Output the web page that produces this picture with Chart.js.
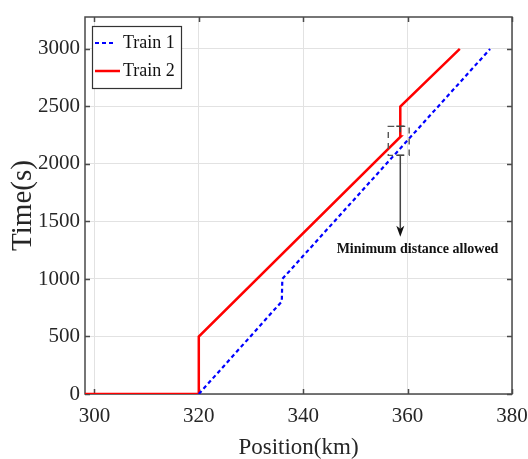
<!DOCTYPE html>
<html>
<head>
<meta charset="utf-8">
<script src="https://cdn.jsdelivr.net/npm/chart.js@4/dist/chart.umd.min.js"></script>
<style>
html,body{margin:0;padding:0;background:#fff;}
#wrap{width:528px;height:459px;}
</style>
</head>
<body>
<div id="wrap"><canvas id="c" width="528" height="459"></canvas></div>
<script>
// ---- data ----
const train1Pos  = [320, 335.9, 336.0, 375.8];
const train1Time = [0, 805, 1000, 3000];
const train2Pos  = [298.2, 320, 320, 358.7, 358.6, 370];
const train2Time = [0, 0, 500, 2240, 2500, 3000];
const xTicks = [300, 320, 340, 360, 380];
const yTicks = [0, 500, 1000, 1500, 2000, 2500, 3000];
const seriesLabels = ['Train 1', 'Train 2'];
// annotation (data units)
const boxPos = [356.3, 360.3];
const boxTime = [2075, 2327];
const arrowPos = [358.6];
const arrowTime = [2075, 1368];
const noteText = 'Minimum distance allowed';
const notePos = [361.9];
const noteTime = [1255];

const FAMILY = '"Liberation Serif", "Times New Roman", serif';
const TXT = '#262626';

function pts(xs, ys){ return xs.map((x,i)=>({x:x, y:ys[i]})); }

const framePlugin = {
  id:'frame',
  beforeDatasetsDraw(chart){
    const {ctx, chartArea:a, scales:{x,y}} = chart;
    ctx.save();
    ctx.strokeStyle = '#4a4a4a';
    ctx.lineWidth = 1.5;
    ctx.beginPath();
    xTicks.forEach(v=>{
      const px = Math.round(x.getPixelForValue(v))+0.5;
      ctx.moveTo(px, a.bottom); ctx.lineTo(px, a.bottom-5);
      ctx.moveTo(px, a.top); ctx.lineTo(px, a.top+5);
    });
    yTicks.forEach(v=>{
      const py = Math.round(y.getPixelForValue(v))+0.5;
      ctx.moveTo(a.left, py); ctx.lineTo(a.left+5, py);
      ctx.moveTo(a.right, py); ctx.lineTo(a.right-5, py);
    });
    ctx.stroke();
    ctx.strokeRect(a.left, a.top, a.right-a.left, a.bottom-a.top);
    ctx.restore();
  },
  afterDatasetsDraw(chart){
    const {ctx, scales:{x,y}} = chart;
    ctx.save();
    // dashed box
    const x0 = x.getPixelForValue(boxPos[0]), x1 = x.getPixelForValue(boxPos[1]);
    const y0 = y.getPixelForValue(boxTime[1]), y1 = y.getPixelForValue(boxTime[0]);
    ctx.strokeStyle = '#555';
    ctx.lineWidth = 1.4;
    ctx.setLineDash([6,5]);
    ctx.strokeRect(x0, y0, x1-x0, y1-y0);
    ctx.setLineDash([]);
    // arrow
    const ax = x.getPixelForValue(arrowPos[0]);
    const ay0 = y.getPixelForValue(arrowTime[0]);
    const ay1 = y.getPixelForValue(arrowTime[1]);
    ctx.strokeStyle = '#444';
    ctx.lineWidth = 1.5;
    ctx.beginPath();
    ctx.moveTo(ax-4, ay0); ctx.lineTo(ax+4, ay0);
    ctx.moveTo(ax, y0); ctx.lineTo(ax, y0+6);
    ctx.moveTo(ax-4, y0); ctx.lineTo(ax+4, y0);
    ctx.moveTo(ax, ay0); ctx.lineTo(ax, ay1-8);
    ctx.stroke();
    ctx.fillStyle = '#111';
    ctx.beginPath();
    ctx.moveTo(ax, ay1);
    ctx.lineTo(ax-4, ay1-11);
    ctx.lineTo(ax, ay1-8);
    ctx.lineTo(ax+4, ay1-11);
    ctx.closePath();
    ctx.fill();
    // note
    ctx.font = 'bold 14px ' + FAMILY;
    ctx.fillStyle = '#111';
    ctx.textAlign = 'center';
    ctx.textBaseline = 'middle';
    ctx.fillText(noteText, x.getPixelForValue(notePos[0]), y.getPixelForValue(noteTime[0]));
    ctx.restore();
  },
  afterDraw(chart){
    // legend box in the upper-left corner of the plot
    const {ctx, chartArea:a} = chart;
    ctx.save();
    const bx = a.left+7, by = a.top+9, bw = 89, bh = 62;
    ctx.fillStyle = '#fff';
    ctx.fillRect(bx, by, bw, bh);
    ctx.strokeStyle = '#333';
    ctx.lineWidth = 1.2;
    ctx.strokeRect(bx+0.5, by+0.5, bw, bh);
    ctx.font = '18px ' + FAMILY;
    ctx.textAlign = 'left';
    ctx.textBaseline = 'middle';
    chart.data.datasets.forEach((ds,i)=>{
      const ly = by + 17 + i*28;
      ctx.strokeStyle = ds.borderColor;
      ctx.lineWidth = ds.borderWidth;
      ctx.setLineDash(ds.borderDash || []);
      ctx.beginPath();
      ctx.moveTo(bx+3, ly);
      ctx.lineTo(bx+ (i===0?23:28), ly);
      ctx.stroke();
      ctx.setLineDash([]);
      ctx.fillStyle = '#111';
      ctx.fillText(ds.label, bx+31, ly);
    });
    ctx.restore();
  }
};

new Chart(document.getElementById('c'), {
  type:'line',
  data:{
    datasets:[
      {label:seriesLabels[0], data:pts(train1Pos, train1Time), borderColor:'#0000ff', borderWidth:2.2, borderDash:[4,3], pointRadius:0, tension:0, fill:false},
      {label:seriesLabels[1], data:pts(train2Pos, train2Time), borderColor:'#ff0000', borderWidth:2.5, pointRadius:0, tension:0, fill:false}
    ]
  },
  options:{
    responsive:false,
    animation:false,
    layout:{padding:{top:17, right:16, left:0, bottom:0}},
    plugins:{legend:{display:false}, tooltip:{enabled:false}},
    scales:{
      x:{
        type:'linear', min:298.2, max:380,
        afterBuildTicks:s=>{ s.ticks = xTicks.map(v=>({value:v})); },
        afterFit:s=>{ s.height = 65; s.paddingLeft = 0; s.paddingRight = 0; },
        grid:{color:'#e2e2e2', drawTicks:false, lineWidth:1},
        border:{display:false},
        ticks:{padding:10, color:TXT, font:{family:FAMILY, size:21}, maxRotation:0, autoSkip:false, callback:v=>String(v)},
        title:{display:true, text:'Position(km)', color:TXT, font:{family:FAMILY, size:23, lineHeight:1}, padding:{top:0, bottom:0}}
      },
      y:{
        type:'linear', min:0, max:3278,
        afterBuildTicks:s=>{ s.ticks = yTicks.map(v=>({value:v})); },
        afterFit:s=>{ s.width = 85; s.paddingTop = 0; s.paddingBottom = 0; },
        grid:{color:'#e2e2e2', drawTicks:false, lineWidth:1},
        border:{display:false},
        ticks:{padding:5, color:TXT, font:{family:FAMILY, size:21}, autoSkip:false, callback:v=>String(v)},
        title:{display:true, text:'Time(s)', color:TXT, font:{family:FAMILY, size:29, lineHeight:1}, padding:{top:9, bottom:0}}
      }
    }
  },
  plugins:[framePlugin]
});
</script>
</body>
</html>
